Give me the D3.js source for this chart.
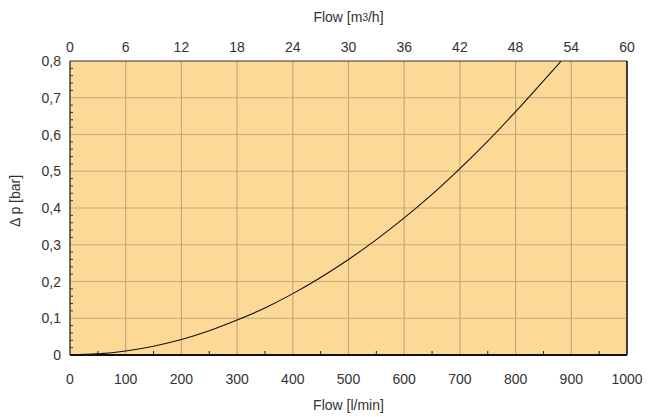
<!DOCTYPE html>
<html>
<head>
<meta charset="utf-8">
<script src="https://cdn.jsdelivr.net/npm/d3@7"></script>
<style>
  body { margin: 0; background: #fff; }
  text { font-family: "Liberation Sans", Arial, sans-serif; fill: #333; }
</style>
</head>
<body>
<div id="chart"></div>
<script>
// Curve: flow in l/min, pressure drop in bar
const flowLmin = [0, 50, 100, 150, 200, 250, 300, 350, 400, 450, 500, 550, 600, 650, 700, 750, 800, 850, 882];
const dpBar = [0, 0.003, 0.011, 0.024, 0.042, 0.066, 0.095, 0.128, 0.167, 0.211, 0.26, 0.314, 0.373, 0.437, 0.507, 0.582, 0.662, 0.746, 0.8];

const bottomTicks = [0, 100, 200, 300, 400, 500, 600, 700, 800, 900, 1000];
const topTicks = [0, 6, 12, 18, 24, 30, 36, 42, 48, 54, 60];
const yTicks = [0, 0.1, 0.2, 0.3, 0.4, 0.5, 0.6, 0.7, 0.8];

const margin = { top: 61, right: 22, bottom: 62, left: 70 };
const width = 649 - margin.left - margin.right;
const height = 417 - margin.top - margin.bottom;

const svg = d3.select("#chart")
    .append("svg")
    .attr("width", 649)
    .attr("height", 417)
    .append("g")
    .attr("transform", `translate(${margin.left}, ${margin.top})`);

const x = d3.scaleLinear().domain([0, 1000]).range([0, width]);
const xTop = d3.scaleLinear().domain([0, 60]).range([0, width]);
const y = d3.scaleLinear().domain([0, 0.8]).range([height, 0]);

// plot background
svg.append("rect")
    .attr("width", width)
    .attr("height", height)
    .attr("fill", "#fdd998");

// grid
svg.append("g")
    .selectAll("line")
    .data(bottomTicks.slice(1, -1))
    .join("line")
    .attr("x1", d => x(d)).attr("x2", d => x(d))
    .attr("y1", 0).attr("y2", height)
    .attr("stroke", "#c8a775")
    .attr("stroke-width", 1.2);

svg.append("g")
    .selectAll("line")
    .data(yTicks.slice(1, -1))
    .join("line")
    .attr("x1", 0).attr("x2", width)
    .attr("y1", d => y(d)).attr("y2", d => y(d))
    .attr("stroke", "#c8a775")
    .attr("stroke-width", 1.2);

// minor ticks, pointing inward
const minorX = d3.range(50, 1000, 100);
svg.append("g")
    .selectAll("line")
    .data(minorX)
    .join("line")
    .attr("x1", d => x(d)).attr("x2", d => x(d))
    .attr("y1", height).attr("y2", height - 4)
    .attr("stroke", "#222")
    .attr("stroke-width", 1);

const minorY = d3.range(0, 80, 2).filter(v => v % 10 !== 0).map(v => v / 100);
svg.append("g")
    .selectAll("line")
    .data(minorY)
    .join("line")
    .attr("x1", 0).attr("x2", 3)
    .attr("y1", d => y(d)).attr("y2", d => y(d))
    .attr("stroke", "#333")
    .attr("stroke-width", 1);

// curve
const clip = svg.append("clipPath").attr("id", "plotclip")
    .append("rect").attr("width", width).attr("height", height);

svg.append("path")
    .datum(flowLmin.map((f, i) => [f, dpBar[i]]))
    .attr("clip-path", "url(#plotclip)")
    .attr("fill", "none")
    .attr("stroke", "#111")
    .attr("stroke-width", 1.1)
    .attr("d", d3.line().x(d => x(d[0])).y(d => y(d[1])).curve(d3.curveMonotoneX));

// frame
svg.append("line").attr("x1", 0).attr("x2", width).attr("y1", 0).attr("y2", 0)
    .attr("stroke", "#333").attr("stroke-width", 1.2);
svg.append("line").attr("x1", width).attr("x2", width).attr("y1", 0).attr("y2", height)
    .attr("stroke", "#111").attr("stroke-width", 1.6);
svg.append("line").attr("x1", 0).attr("x2", width).attr("y1", height).attr("y2", height)
    .attr("stroke", "#111").attr("stroke-width", 2.2);
svg.append("line").attr("x1", 0).attr("x2", 0).attr("y1", 0).attr("y2", height)
    .attr("stroke", "#3a3226").attr("stroke-width", 1.4);

// tick labels
const fmt = d => String(d).replace(".", ",");

svg.append("g")
    .selectAll("text")
    .data(bottomTicks)
    .join("text")
    .attr("x", d => x(d))
    .attr("y", height + 29)
    .attr("text-anchor", "middle")
    .style("font-size", "14px")
    .text(d => d);

svg.append("g")
    .selectAll("text")
    .data(topTicks)
    .join("text")
    .attr("x", d => xTop(d))
    .attr("y", -9)
    .attr("text-anchor", "middle")
    .style("font-size", "14px")
    .text(d => d);

svg.append("g")
    .selectAll("text")
    .data(yTicks)
    .join("text")
    .attr("x", -9)
    .attr("y", d => y(d) + 5)
    .attr("text-anchor", "end")
    .style("font-size", "14px")
    .text(d => fmt(d));

// axis titles
svg.append("text")
    .attr("x", width / 2)
    .attr("y", height + 55)
    .attr("text-anchor", "middle")
    .style("font-size", "14px")
    .text("Flow [l/min]");

const topTitle = svg.append("text")
    .attr("x", width / 2)
    .attr("y", -39)
    .attr("text-anchor", "middle")
    .style("font-size", "14px");
topTitle.append("tspan").text("Flow [m");
topTitle.append("tspan").attr("dy", -1).style("font-size", "10px").text("3");
topTitle.append("tspan").attr("dy", 1).text("/h]");

svg.append("text")
    .attr("transform", "rotate(-90)")
    .attr("x", -140)
    .attr("y", -50)
    .attr("text-anchor", "middle")
    .style("font-size", "14px")
    .text("Δ p [bar]");
</script>
</body>
</html>
